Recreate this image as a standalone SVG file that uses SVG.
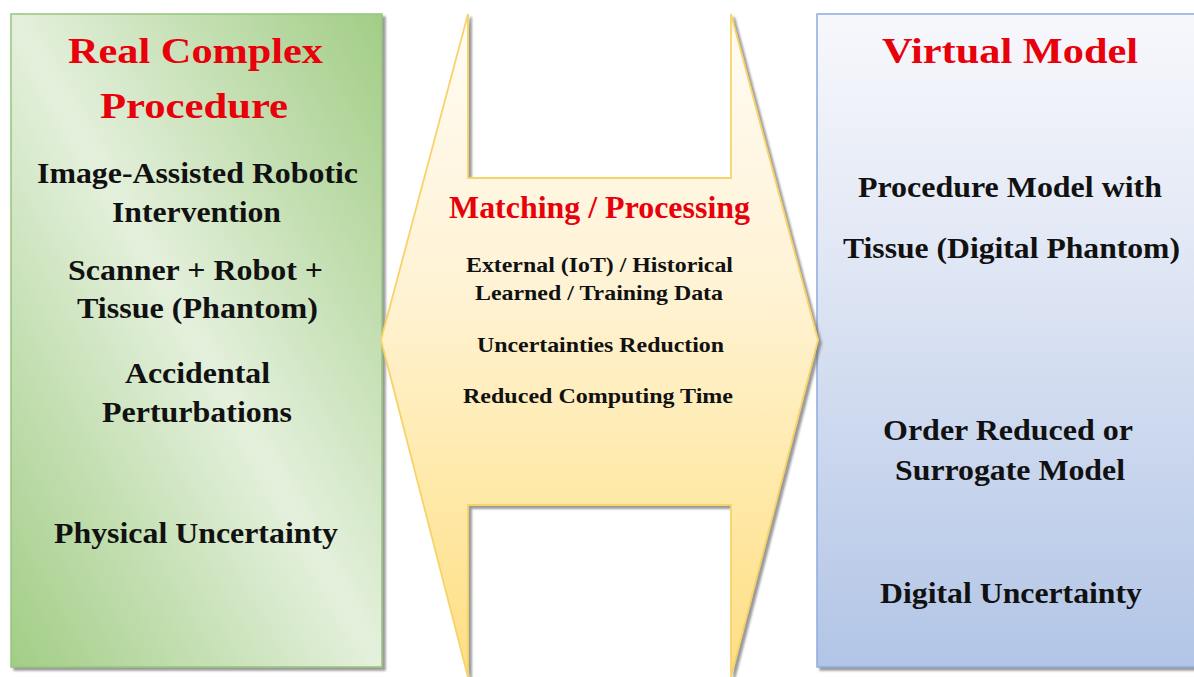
<svg xmlns="http://www.w3.org/2000/svg" width="1194" height="677" viewBox="0 0 1194 677">
<defs>
<linearGradient id="gGreen" x1="1" y1="0" x2="0" y2="1">
<stop offset="0" stop-color="#a2cd86"/>
<stop offset="0.5" stop-color="#e4f0dc"/>
<stop offset="1" stop-color="#a2cd86"/>
</linearGradient>
<linearGradient id="gBlue" x1="0" y1="0" x2="0" y2="1">
<stop offset="0" stop-color="#f7f8fc"/>
<stop offset="0.35" stop-color="#e2e8f5"/>
<stop offset="1" stop-color="#b2c5e6"/>
</linearGradient>
<linearGradient id="gYellow" x1="0" y1="0" x2="0" y2="1">
<stop offset="0" stop-color="#fffcf4"/>
<stop offset="0.4" stop-color="#fff3d6"/>
<stop offset="0.75" stop-color="#ffe8a4"/>
<stop offset="1" stop-color="#ffde84"/>
</linearGradient>
<filter id="shadow" x="-5%" y="-5%" width="115%" height="115%">
<feDropShadow dx="3" dy="3" stdDeviation="1.2" flood-color="#6f6f6f" flood-opacity="0.7"/>
</filter>
</defs>
<style>
text{font-family:"Liberation Serif","Times New Roman",serif;font-weight:bold;}
.t{fill:#e8000b;font-size:36px;}
.m{fill:#e8000b;font-size:31px;}
.b{fill:#111;font-size:30px;}
.s{fill:#111;font-size:22px;}
</style>
<rect width="1194" height="677" fill="#ffffff"/>
<g id="real-complex-procedure">
<rect x="11" y="14" width="371" height="653" fill="url(#gGreen)" stroke="#96c57c" stroke-width="1.5" filter="url(#shadow)"/>
<text class="t" x="68" y="63" textLength="255" lengthAdjust="spacingAndGlyphs">Real Complex</text>
<text class="t" x="100" y="118" textLength="188" lengthAdjust="spacingAndGlyphs">Procedure</text>
<text class="b" x="37" y="183" textLength="321" lengthAdjust="spacingAndGlyphs">Image-Assisted Robotic</text>
<text class="b" x="112" y="222" textLength="169" lengthAdjust="spacingAndGlyphs">Intervention</text>
<text class="b" x="68" y="280" textLength="255" lengthAdjust="spacingAndGlyphs">Scanner + Robot +</text>
<text class="b" x="77" y="318" textLength="241" lengthAdjust="spacingAndGlyphs">Tissue (Phantom)</text>
<text class="b" x="125" y="383" textLength="145" lengthAdjust="spacingAndGlyphs">Accidental</text>
<text class="b" x="102" y="422" textLength="190" lengthAdjust="spacingAndGlyphs">Perturbations</text>
<text class="b" x="54" y="543" textLength="284" lengthAdjust="spacingAndGlyphs">Physical Uncertainty</text>
</g>
<g id="virtual-model">
<rect x="817" y="14" width="380" height="653" fill="url(#gBlue)" stroke="#8eaadb" stroke-width="1.5" filter="url(#shadow)"/>
<text class="t" x="882" y="63" textLength="256" lengthAdjust="spacingAndGlyphs">Virtual Model</text>
<text class="b" x="858" y="197" textLength="304" lengthAdjust="spacingAndGlyphs">Procedure Model with</text>
<text class="b" x="843" y="258" textLength="337" lengthAdjust="spacingAndGlyphs">Tissue (Digital Phantom)</text>
<text class="b" x="883" y="440" textLength="250" lengthAdjust="spacingAndGlyphs">Order Reduced or</text>
<text class="b" x="895" y="480" textLength="230" lengthAdjust="spacingAndGlyphs">Surrogate Model</text>
<text class="b" x="880" y="603" textLength="262" lengthAdjust="spacingAndGlyphs">Digital Uncertainty</text>
</g>
<g id="matching-processing">
<path d="M468,14 L468,178 L731,178 L731,14 L818,340 L731,677 L731,505 L468,505 L468,677 L381,340 Z" fill="url(#gYellow)" stroke="#f7d36a" stroke-width="1.8" stroke-linejoin="miter" filter="url(#shadow)"/>
<text class="m" x="449" y="218" textLength="301" lengthAdjust="spacingAndGlyphs">Matching / Processing</text>
<text class="s" x="466" y="272" textLength="267" lengthAdjust="spacingAndGlyphs">External (IoT) / Historical</text>
<text class="s" x="475" y="300" textLength="248" lengthAdjust="spacingAndGlyphs">Learned / Training Data</text>
<text class="s" x="477" y="352" textLength="247" lengthAdjust="spacingAndGlyphs">Uncertainties Reduction</text>
<text class="s" x="463" y="403" textLength="270" lengthAdjust="spacingAndGlyphs">Reduced Computing Time</text>
</g>
<g id="connectors"></g>
</svg>
